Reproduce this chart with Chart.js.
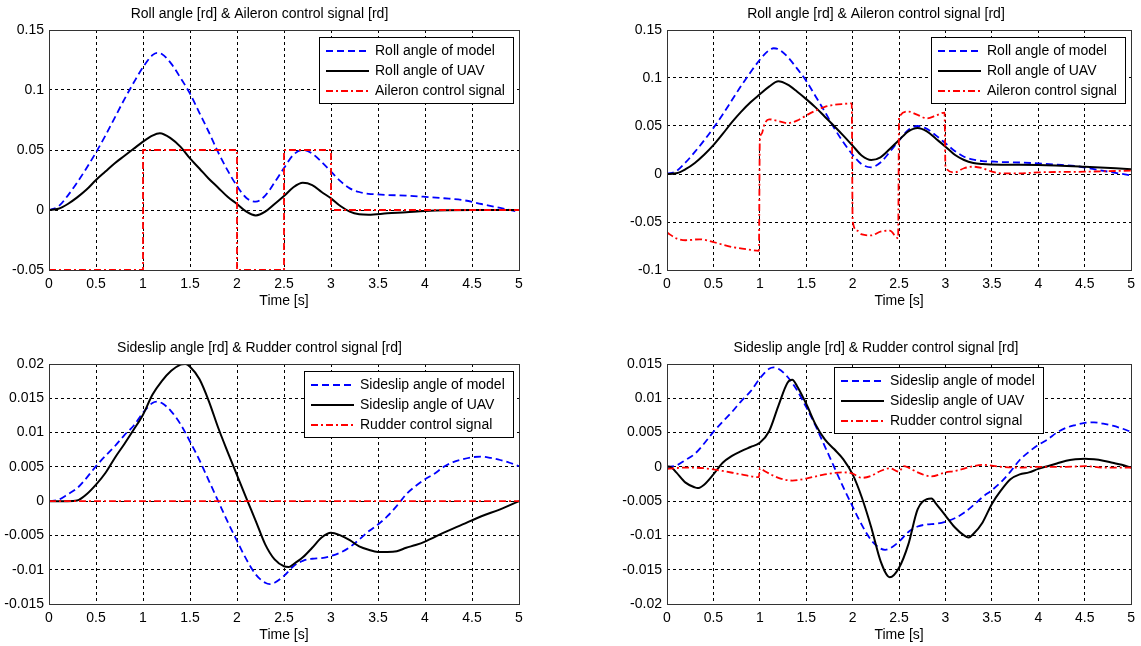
<!DOCTYPE html>
<html>
<head>
<meta charset="utf-8">
<title>Roll and sideslip responses</title>
<script src="https://cdn.jsdelivr.net/npm/chart.js@4.4.1/dist/chart.umd.min.js"></script>
<style>
  body { margin: 0; background: #fff; width: 1141px; height: 646px; overflow: hidden; }
  .panel { position: absolute; }
</style>
</head>
<body>
<div class="panel" style="left:0;top:0"><canvas id="rollA" width="530" height="310"></canvas></div>
<div class="panel" style="left:618px;top:0"><canvas id="rollB" width="523" height="310"></canvas></div>
<div class="panel" style="left:0;top:334px"><canvas id="slipA" width="530" height="310"></canvas></div>
<div class="panel" style="left:618px;top:334px"><canvas id="slipB" width="523" height="310"></canvas></div>
<script>
// ----------------------
// Data (time in s, angles in rd)
// ----------------------

// Roll angle of the reference model (same in both roll panels)
const rollModelT = [0, 0.1, 0.2, 0.3, 0.4, 0.5, 0.6, 0.7, 0.8, 0.9, 1.0, 1.1, 1.15, 1.2, 1.3, 1.4, 1.5, 1.6, 1.7, 1.8, 1.9,
  2.0, 2.1, 2.2, 2.3, 2.4, 2.5, 2.6, 2.7, 2.8, 2.9, 3.0, 3.1, 3.2, 3.3, 3.4, 3.5, 3.6, 3.8, 4.0, 4.2, 4.4, 4.6, 4.8, 5.0];
const rollModel = [0, 0.003, 0.012, 0.023, 0.035, 0.048, 0.062, 0.077, 0.092, 0.106, 0.119, 0.129, 0.131, 0.130, 0.122, 0.110, 0.097, 0.081, 0.065, 0.048, 0.033,
  0.020, 0.010, 0.007, 0.012, 0.023, 0.035, 0.046, 0.050, 0.047, 0.040, 0.032, 0.024, 0.018, 0.015, 0.0135, 0.013, 0.0125, 0.012, 0.011, 0.0098, 0.0083, 0.005, 0.0017, -0.0015];

// Roll angle of the UAV, first controller
const rollUavAT = [0, 0.1, 0.2, 0.3, 0.4, 0.5, 0.6, 0.7, 0.8, 0.9, 1.0, 1.1, 1.18, 1.3, 1.4, 1.5, 1.6, 1.7, 1.8, 1.9,
  2.0, 2.1, 2.2, 2.3, 2.4, 2.5, 2.6, 2.7, 2.8, 2.9, 3.0, 3.1, 3.2, 3.3, 3.4, 3.6, 3.8, 4.0, 4.5, 5.0];
const rollUavA = [0, 0.001, 0.005, 0.0105, 0.017, 0.025, 0.032, 0.039, 0.045, 0.051, 0.057, 0.062, 0.064, 0.0595, 0.0526, 0.043, 0.0346, 0.026, 0.0186, 0.011,
  0.005, -0.0014, -0.0045, -0.0014, 0.005, 0.0116, 0.019, 0.0227, 0.0208, 0.015, 0.0097, 0.0033, -0.0014, -0.0036, -0.004, -0.0028, -0.0019, -0.0008, 0, 0];

// Aileron command, first controller (bang-bang steps)
const aileronAT = [0, 1, 1, 2, 2, 2.5, 2.5, 3, 3, 5];
const aileronA = [-0.05, -0.05, 0.05, 0.05, -0.05, -0.05, 0.05, 0.05, 0, 0];

// Roll angle of the UAV, second controller
const rollUavBT = [0, 0.1, 0.2, 0.3, 0.4, 0.5, 0.6, 0.7, 0.8, 0.9, 1.0, 1.1, 1.2, 1.3, 1.4, 1.5, 1.6, 1.7, 1.8, 1.9,
  2.0, 2.1, 2.2, 2.3, 2.4, 2.5, 2.6, 2.7, 2.8, 2.9, 3.0, 3.1, 3.2, 3.3, 3.4, 3.6, 4.0, 4.5, 5.0];
const rollUavB = [0, 0.0007, 0.005, 0.0115, 0.020, 0.030, 0.0417, 0.054, 0.065, 0.0747, 0.083, 0.091, 0.0965, 0.093, 0.086, 0.078, 0.0694, 0.0597, 0.050, 0.040,
  0.0295, 0.019, 0.0146, 0.0174, 0.026, 0.0354, 0.0444, 0.048, 0.0444, 0.0365, 0.0285, 0.020, 0.0146, 0.0115, 0.0104, 0.0097, 0.0094, 0.0076, 0.005];

// Aileron command, second controller
const aileronBT = [0, 0.1, 0.2, 0.35, 0.5, 0.7, 0.9, 0.99, 1.0, 1.02, 1.05, 1.1, 1.2, 1.3, 1.4, 1.5, 1.6, 1.7, 1.8, 1.9, 1.99,
  2.0, 2.05, 2.1, 2.2, 2.3, 2.4, 2.49, 2.5, 2.6, 2.7, 2.8, 2.9, 2.99, 3.0, 3.1, 3.2, 3.3, 3.4, 3.5, 3.6, 3.8, 4.0, 4.5, 5.0];
const aileronB = [-0.061, -0.067, -0.069, -0.068, -0.071, -0.076, -0.079, -0.080, 0.035, 0.042, 0.052, 0.057, 0.055, 0.053, 0.0556, 0.061, 0.066, 0.070, 0.072, 0.073, 0.0736,
  -0.049, -0.059, -0.063, -0.064, -0.060, -0.059, -0.067, 0.059, 0.065, 0.0615, 0.058, 0.061, 0.064, 0.007, 0.0017, 0.006, 0.0076, 0.006, 0.0024, 0.0007, 0.0007, 0.0017, 0.0024, 0.0035];

// Sideslip angle of the reference model (same in both sideslip panels)
const slipModelT = [0, 0.1, 0.2, 0.3, 0.4, 0.5, 0.6, 0.7, 0.8, 0.9, 1.0, 1.1, 1.15, 1.2, 1.3, 1.4, 1.5, 1.6, 1.7, 1.8, 1.9,
  2.0, 2.1, 2.2, 2.3, 2.35, 2.4, 2.5, 2.6, 2.7, 2.8, 2.9, 3.0, 3.1, 3.2, 3.3, 3.4, 3.5, 3.6, 3.7, 3.8, 3.9,
  4.0, 4.1, 4.2, 4.3, 4.4, 4.5, 4.6, 4.7, 4.8, 4.9, 5.0];
const slipModel = [0, 0.0002, 0.001, 0.0019, 0.0034, 0.0051, 0.0066, 0.008, 0.0096, 0.011, 0.0129, 0.0143, 0.0145, 0.0143, 0.0131, 0.0112, 0.0087, 0.006, 0.003, 0.0, -0.003,
  -0.0058, -0.0085, -0.0107, -0.0119, -0.0121, -0.0119, -0.0109, -0.0095, -0.0087, -0.0084, -0.0083, -0.008, -0.0075, -0.0067, -0.0056, -0.0044, -0.0034, -0.0022, -0.0007, 0.001, 0.0022,
  0.0032, 0.004, 0.005, 0.0057, 0.0061, 0.0064, 0.0065, 0.0063, 0.006, 0.0056, 0.0051];

// Sideslip angle of the UAV, first controller
const slipUavAT = [0, 0.2, 0.3, 0.4, 0.5, 0.6, 0.7, 0.8, 0.9, 1.0, 1.1, 1.2, 1.3, 1.4, 1.45, 1.5, 1.6, 1.7, 1.8, 1.9,
  2.0, 2.1, 2.2, 2.3, 2.4, 2.5, 2.55, 2.6, 2.7, 2.8, 2.9, 3.0, 3.1, 3.2, 3.3, 3.4, 3.5, 3.6, 3.7, 3.8, 3.9,
  4.0, 4.2, 4.4, 4.6, 4.8, 5.0];
const slipUavA = [0, 0, 0.0001, 0.001, 0.0024, 0.0041, 0.0063, 0.0083, 0.0104, 0.0126, 0.0155, 0.0175, 0.019, 0.0199, 0.02, 0.0196, 0.0178, 0.0146, 0.0107, 0.0072,
  0.0038, 0.0004, -0.0029, -0.0063, -0.0085, -0.0095, -0.0096, -0.0092, -0.0082, -0.0068, -0.0053, -0.0046, -0.005, -0.0057, -0.0066, -0.0071, -0.0074, -0.0074, -0.0073, -0.0068, -0.0064,
  -0.0059, -0.0046, -0.0034, -0.0022, -0.0012, 0];

// Rudder command, first controller (stays at zero)
const rudderAT = [0, 5];
const rudderA = [0, 0];

// Sideslip angle of the UAV, second controller
const slipUavBT = [0, 0.05, 0.1, 0.2, 0.3, 0.33, 0.4, 0.5, 0.6, 0.7, 0.8, 0.9, 1.0, 1.1, 1.2, 1.3, 1.35, 1.4, 1.5, 1.6, 1.7, 1.8, 1.9,
  2.0, 2.1, 2.2, 2.3, 2.4, 2.5, 2.6, 2.7, 2.8, 2.85, 2.9, 3.0, 3.1, 3.2, 3.25, 3.3, 3.4, 3.5, 3.6, 3.7, 3.8, 3.9,
  4.0, 4.1, 4.2, 4.3, 4.4, 4.5, 4.6, 4.7, 4.8, 4.9, 5.0];
const slipUavB = [0.0001, -0.0001, -0.0008, -0.0023, -0.003, -0.0031, -0.0026, -0.0011, 0.0006, 0.0016, 0.0023, 0.0029, 0.0035, 0.0052, 0.0089, 0.0123, 0.0127, 0.0118, 0.0092, 0.0062, 0.004, 0.0026, 0.0011,
  -0.0011, -0.0045, -0.0088, -0.0137, -0.0161, -0.0147, -0.0113, -0.0062, -0.0047, -0.0046, -0.0054, -0.0071, -0.0088, -0.01, -0.0103, -0.0098, -0.0081, -0.0054, -0.0034, -0.0018, -0.0011, -0.0008,
  -0.0003, 0.0001, 0.0005, 0.0009, 0.0011, 0.0012, 0.0011, 0.0009, 0.0006, 0.0003, -0.0001];

// Rudder command, second controller
const rudderBT = [0, 0.2, 0.4, 0.6, 0.8, 0.99, 1.0, 1.05, 1.2, 1.35, 1.5, 1.7, 1.9, 2.0, 2.1, 2.2, 2.3, 2.4, 2.5, 2.55, 2.6, 2.7, 2.85,
  3.0, 3.1, 3.3, 3.4, 3.6, 3.8, 4.0, 4.3, 4.5, 4.7, 5.0];
const rudderB = [-0.0003, -0.0001, -0.0002, -0.0006, -0.0011, -0.0015, -0.0002, -0.0006, -0.0016, -0.002, -0.0017, -0.0011, -0.0008, -0.001, -0.0016, -0.0013, -0.0006, -0.0002, -0.0007, 0.0001, -0.0001, -0.0008, -0.0014,
  -0.0008, -0.0006, 0.0001, 0.0003, 0, -0.0001, 0, 0, 0.0001, -0.0001, -0.0001];

// Axis ticks
const timeTicks = [0, 0.5, 1, 1.5, 2, 2.5, 3, 3.5, 4, 4.5, 5];
const rollATicks = [-0.05, 0, 0.05, 0.1, 0.15];
const rollBTicks = [-0.1, -0.05, 0, 0.05, 0.1, 0.15];
const slipATicks = [-0.015, -0.01, -0.005, 0, 0.005, 0.01, 0.015, 0.02];
const slipBTicks = [-0.02, -0.015, -0.01, -0.005, 0, 0.005, 0.01, 0.015];

// ----------------------
// Styles
// ----------------------
const FONT = '"Liberation Sans", Arial, sans-serif';
Chart.defaults.font.family = FONT;
Chart.defaults.font.size = 14;
Chart.defaults.color = '#000';

const STYLES = {
  model:  { borderColor: '#0000ff', borderWidth: 1.8, borderDash: [7, 4], order: 3 },
  uav:    { borderColor: '#000000', borderWidth: 2, borderDash: [], order: 2 },
  signal: { borderColor: '#ff0000', borderWidth: 1.8, borderDash: [7, 3, 2, 3], order: 1 }
};

const fmtTick = v => String(Number(v.toFixed(4)));

// axis frame + MATLAB style legend box drawn inside the plot area
const boxLegend = {
  id: 'boxLegend',
  afterDraw(chart, args, opts) {
    const { ctx, chartArea: a } = chart;
    ctx.save();
    ctx.strokeStyle = '#333';
    ctx.lineWidth = 1;
    ctx.setLineDash([]);
    ctx.strokeRect(Math.round(a.left) + 0.5, Math.round(a.top) + 0.5,
                   Math.round(a.right - a.left), Math.round(a.bottom - a.top));

    const sets = chart.data.datasets;
    ctx.font = '14px ' + FONT;
    const textW = Math.max(...sets.map(d => ctx.measureText(d.label).width));
    const w = Math.round(7 + 43 + 6 + textW + 8);
    const h = 66;
    const x0 = opts.left != null ? Math.round(a.left + opts.left) : Math.round(a.right - opts.right - w);
    const y0 = Math.round(a.top + opts.top);

    ctx.fillStyle = '#fff';
    ctx.fillRect(x0, y0, w, h);
    ctx.strokeStyle = '#000';
    ctx.strokeRect(x0 + 0.5, y0 + 0.5, w, h);

    sets.forEach((d, i) => {
      const y = y0 + 14 + i * 20;
      ctx.beginPath();
      ctx.setLineDash(d.borderDash || []);
      ctx.strokeStyle = d.borderColor;
      ctx.lineWidth = d.borderWidth;
      ctx.moveTo(x0 + 7, y);
      ctx.lineTo(x0 + 50, y);
      ctx.stroke();
      ctx.setLineDash([]);
      ctx.fillStyle = '#000';
      ctx.textBaseline = 'middle';
      ctx.textAlign = 'left';
      ctx.fillText(d.label, x0 + 56, y);
    });
    ctx.restore();
  }
};

// ----------------------
// Panel builder
// ----------------------
function makePanel(id, title, series, yTicks, legendPos, padRight) {
  const datasets = series.map(s => Object.assign({
    label: s.label,
    data: s.t.map((t, i) => ({ x: t, y: s.y[i] })),
    pointRadius: 0,
    fill: false,
    cubicInterpolationMode: s.smooth ? 'monotone' : 'default',
    tension: 0
  }, STYLES[s.style]));

  return new Chart(document.getElementById(id), {
    type: 'line',
    data: { datasets },
    plugins: [boxLegend],
    options: {
      responsive: false,
      animation: false,
      layout: { padding: { left: 0, right: padRight, top: 0, bottom: 0 } },
      plugins: {
        legend: { display: false },
        tooltip: { enabled: false },
        title: {
          display: true, text: title, color: '#000',
          font: { size: 14, weight: 'normal' },
          padding: { top: 6, bottom: 7.2 }
        },
        boxLegend: legendPos
      },
      scales: {
        x: {
          type: 'linear',
          min: timeTicks[0], max: timeTicks[timeTicks.length - 1],
          afterBuildTicks: sc => { sc.ticks = timeTicks.map(v => ({ value: v })); },
          afterFit: sc => { sc.height = 40; },
          ticks: { callback: fmtTick, padding: 6, autoSkip: false, maxRotation: 0, color: '#000' },
          grid: { color: '#000', lineWidth: 1, drawTicks: false },
          border: { display: false, dash: [3, 3] },
          title: { display: true, text: 'Time [s]', color: '#000', font: { size: 14 }, padding: { top: 0, bottom: 0 } }
        },
        y: {
          min: yTicks[0], max: yTicks[yTicks.length - 1],
          afterBuildTicks: sc => { sc.ticks = yTicks.map(v => ({ value: v })); },
          afterFit: sc => { sc.width = 49; },
          ticks: { callback: fmtTick, padding: 5, autoSkip: false, color: '#000' },
          grid: { color: '#000', lineWidth: 1, drawTicks: false },
          border: { display: false, dash: [3, 3] }
        }
      }
    }
  });
}

document.addEventListener('DOMContentLoaded', () => {
  makePanel('rollA', 'Roll angle [rd] & Aileron control signal [rd]', [
    { label: 'Roll angle of model', t: rollModelT, y: rollModel, style: 'model', smooth: true },
    { label: 'Roll angle of UAV', t: rollUavAT, y: rollUavA, style: 'uav', smooth: true },
    { label: 'Aileron control signal', t: aileronAT, y: aileronA, style: 'signal' }
  ], rollATicks, { right: 6, top: 7 }, 11);

  makePanel('rollB', 'Roll angle [rd] & Aileron control signal [rd]', [
    { label: 'Roll angle of model', t: rollModelT, y: rollModel, style: 'model', smooth: true },
    { label: 'Roll angle of UAV', t: rollUavBT, y: rollUavB, style: 'uav', smooth: true },
    { label: 'Aileron control signal', t: aileronBT, y: aileronB, style: 'signal', smooth: true }
  ], rollBTicks, { right: 6, top: 7 }, 7);

  makePanel('slipA', 'Sideslip angle [rd] & Rudder control signal [rd]', [
    { label: 'Sideslip angle of model', t: slipModelT, y: slipModel, style: 'model', smooth: true },
    { label: 'Sideslip angle of UAV', t: slipUavAT, y: slipUavA, style: 'uav', smooth: true },
    { label: 'Rudder control signal', t: rudderAT, y: rudderA, style: 'signal' }
  ], slipATicks, { right: 6, top: 7 }, 11);

  makePanel('slipB', 'Sideslip angle [rd] & Rudder control signal [rd]', [
    { label: 'Sideslip angle of model', t: slipModelT, y: slipModel, style: 'model', smooth: true },
    { label: 'Sideslip angle of UAV', t: slipUavBT, y: slipUavB, style: 'uav', smooth: true },
    { label: 'Rudder control signal', t: rudderBT, y: rudderB, style: 'signal', smooth: true }
  ], slipBTicks, { left: 167, top: 3 }, 7);
});
</script>
</body>
</html>
